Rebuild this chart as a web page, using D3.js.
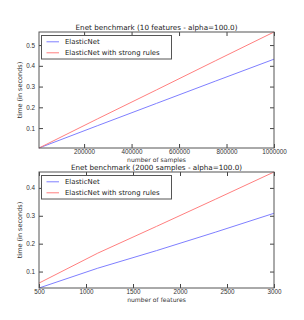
<!DOCTYPE html>
<html>
<head>
<meta charset="utf-8">
<script src="https://cdn.jsdelivr.net/npm/d3@7"></script>
<style>
  body { margin: 0; background: #fff; }
  svg { display: block; font-family: "DejaVu Sans", sans-serif; }
</style>
</head>
<body>
<svg width="304" height="320"></svg>
<script>
// top panel: vary number of samples
const samples = [10000, 257500, 505000, 752500, 1000000];
const samplesEnet = [0.004, 0.112, 0.219, 0.326, 0.432];
const samplesStrong = [0.004, 0.145, 0.284, 0.424, 0.563];
const samplesTicksX = [200000, 400000, 600000, 800000, 1000000];
const samplesTicksY = [0.1, 0.2, 0.3, 0.4, 0.5];

// bottom panel: vary number of features
const features = [500, 1125, 1750, 2375, 3000];
const featuresEnet = [0.041, 0.112, 0.175, 0.241, 0.309];
const featuresStrong = [0.0586, 0.166, 0.262, 0.359, 0.457];
const featuresTicksX = [500, 1000, 1500, 2000, 2500, 3000];
const featuresTicksY = [0.1, 0.2, 0.3, 0.4];

const seriesNames = ["ElasticNet", "ElasticNet with strong rules"];
const seriesColors = ["#7f7fff", "#ff7f7f"];

const svg = d3.select("svg");

function drawPanel(cfg) {
    const area = cfg.area;
    const w = area.right - area.left;
    const h = area.bottom - area.top;

    const allY = cfg.ys.flat();
    const scX = d3.scaleLinear().domain(d3.extent(cfg.xs)).range([0, w]);
    const scY = d3.scaleLinear().domain(d3.extent(allY)).range([h, 0]);

    const g = svg.append("g").attr("transform", `translate(${area.left}, ${area.top})`);

    // lines
    cfg.ys.forEach((vals, i) => {
        const line = d3.line()
            .x((d, j) => scX(cfg.xs[j]))
            .y(d => scY(d));
        g.append("path")
            .datum(vals)
            .attr("fill", "none")
            .attr("stroke", seriesColors[i])
            .attr("stroke-width", 1)
            .attr("d", line);
    });

    // axes with inward ticks on all four sides
    const fmtX = d3.format("d");
    const fmtY = d3.format(".1f");
    const axB = g.append("g").attr("transform", `translate(0, ${h})`)
        .call(d3.axisBottom(scX).tickValues(cfg.ticksX).tickFormat(fmtX).tickSizeInner(-4).tickSizeOuter(0).tickPadding(1.5));
    const axT = g.append("g")
        .call(d3.axisTop(scX).tickValues(cfg.ticksX).tickFormat("").tickSizeInner(-4).tickSizeOuter(0));
    const axL = g.append("g")
        .call(d3.axisLeft(scY).tickValues(cfg.ticksY).tickFormat(fmtY).tickSizeInner(-4).tickSizeOuter(0).tickPadding(4));
    const axR = g.append("g").attr("transform", `translate(${w}, 0)`)
        .call(d3.axisRight(scY).tickValues(cfg.ticksY).tickFormat("").tickSizeInner(-4).tickSizeOuter(0));

    [axB, axT, axL, axR].forEach(ax => {
        ax.select(".domain").remove();
        ax.selectAll("line").attr("stroke", "#444");
        ax.selectAll("text").attr("fill", "#333").style("font-size", "6.3px");
    });

    // frame
    g.append("rect")
        .attr("x", 0).attr("y", 0)
        .attr("width", w).attr("height", h)
        .attr("fill", "none")
        .attr("stroke", "#555")
        .attr("stroke-width", 1);

    // title
    g.append("text")
        .attr("x", w / 2)
        .attr("y", -2.5)
        .attr("text-anchor", "middle")
        .attr("fill", "#222")
        .style("font-size", "7.2px")
        .text(cfg.title);

    // x label
    g.append("text")
        .attr("x", w / 2)
        .attr("y", h + 13.8)
        .attr("text-anchor", "middle")
        .attr("fill", "#333")
        .style("font-size", "6.1px")
        .text(cfg.labelX);

    // y label
    g.append("text")
        .attr("transform", `translate(${-17}, ${h / 2}) rotate(-90)`)
        .attr("text-anchor", "middle")
        .attr("fill", "#333")
        .style("font-size", "6.5px")
        .text("time (in seconds)");

    // legend
    const lg = g.append("g").attr("transform", "translate(2.5, 3.5)");
    lg.append("rect")
        .attr("width", 130)
        .attr("height", 23.5)
        .attr("fill", "#fff")
        .attr("stroke", "#555")
        .attr("stroke-width", 1);
    seriesNames.forEach((name, i) => {
        const yy = 6.3 + i * 11;
        lg.append("line")
            .attr("x1", 5).attr("x2", 17.5)
            .attr("y1", yy).attr("y2", yy)
            .attr("stroke", seriesColors[i])
            .attr("stroke-width", 1);
        lg.append("text")
            .attr("x", 23.5)
            .attr("y", yy + 2.4)
            .attr("fill", "#222")
            .style("font-size", "6.9px")
            .text(name);
    });
}

drawPanel({
    area: { left: 39, right: 274, top: 32, bottom: 148 },
    xs: samples,
    ys: [samplesEnet, samplesStrong],
    ticksX: samplesTicksX,
    ticksY: samplesTicksY,
    title: "Enet benchmark (10 features - alpha=100.0)",
    labelX: "number of samples"
});

drawPanel({
    area: { left: 39, right: 274, top: 172, bottom: 288 },
    xs: features,
    ys: [featuresEnet, featuresStrong],
    ticksX: featuresTicksX,
    ticksY: featuresTicksY,
    title: "Enet benchmark (2000 samples - alpha=100.0)",
    labelX: "number of features"
});
</script>
</body>
</html>
